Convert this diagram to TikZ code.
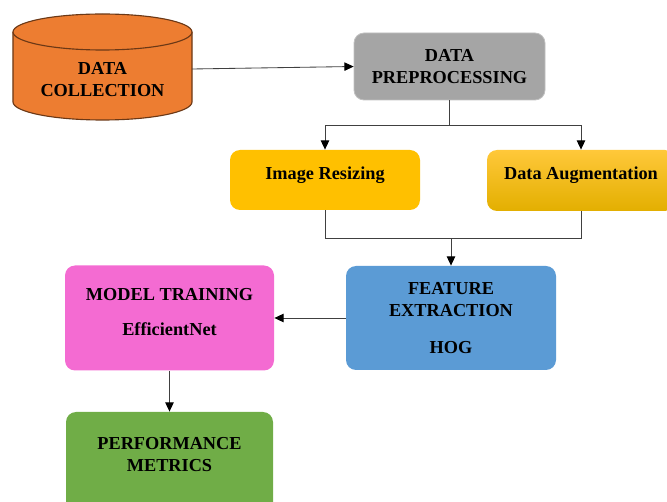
\documentclass[tikz,border=0pt]{standalone}
\usepackage{fontspec}
\setmainfont{Liberation Serif}
\usetikzlibrary{arrows.meta}

\definecolor{collorange}{HTML}{ED7D31}
\definecolor{prepgray}{HTML}{A5A5A5}
\definecolor{resizeyellow}{HTML}{FFC000}
\definecolor{augtop}{HTML}{FFC83A}
\definecolor{augbottom}{HTML}{E3AF00}
\definecolor{featblue}{HTML}{5B9BD5}
\definecolor{trainpink}{HTML}{F46BD2}
\definecolor{perfgreen}{HTML}{70AD47}

\begin{document}
\begin{tikzpicture}[line width=0.6pt,
  box/.style={rounded corners=0.25cm, align=center, inner sep=2pt,
    font=\fontsize{13}{15.6}\selectfont\bfseries},
  link/.style={draw=black!75, -{Triangle[length=6.5pt,width=6pt,color=black]}}]

\useasboundingbox (0,0) rectangle (16.675,12.55);

% data collection drum
\draw[fill=collorange, draw=collorange!45!black, line width=0.8pt]  (0.325,11.75)  --  (0.325,10.0)
  arc[start angle=180, end angle=360, x radius=2.2375, y radius=0.45]  --  (4.8,11.75);
\draw[fill=collorange, draw=collorange!45!black, line width=0.8pt]  (2.5625,11.75)  ellipse [x radius=2.2375, y radius=0.45];
\node (coll) [box] at (2.5625,10.55) {DATA\\COLLECTION};
\coordinate (coll out) at (4.8,10.825);

\node (prep) [box, fill=prepgray, draw=prepgray!70!white, minimum width=4.775cm, minimum height=1.675cm] at (11.2375,10.8875) {DATA\\PREPROCESSING};

\node (resize) [box, fill=resizeyellow, minimum width=4.75cm, minimum height=1.5cm, text depth=10pt] at (8.125,8.05) {Image Resizing};
\node (aug) [box, top color=augtop, bottom color=augbottom, minimum width=4.7cm, minimum height=1.525cm, text depth=10pt] at (14.525,8.0375) {Data Augmentation};

\node (feat) [box, fill=featblue, minimum width=5.25cm, minimum height=2.6cm] at (11.275,4.6) {FEATURE\\EXTRACTION\\[10.5pt]HOG};
\node (train) [box, fill=trainpink, minimum width=5.225cm, minimum height=2.625cm, text depth=8.5pt] at (4.2375,4.6) {MODEL TRAINING\\[9.5pt]EfficientNet};
\node (perf) [box, fill=perfgreen, minimum width=5.175cm, minimum height=2.5cm, text depth=10.5pt] at (4.2375,1.0) {PERFORMANCE\\METRICS};

\draw[link]  (coll out)  --  (prep.west);
\draw[link]  (prep.south)  --  ++(0,-0.625)  -|  (resize.north);
\draw[link]  (prep.south)  --  ++(0,-0.625)  -|  (aug.north);

\draw[draw=black!75]  (resize.south)  --  ++(0,-0.7) coordinate (join)  -|  (aug.south);
\draw[link]  (join -| feat.north)  --  (feat.north);

\draw[link]  (feat.west)  --  (train.east);
\draw[link]  (train.south)  --  (perf.north);

\end{tikzpicture}
\end{document}
